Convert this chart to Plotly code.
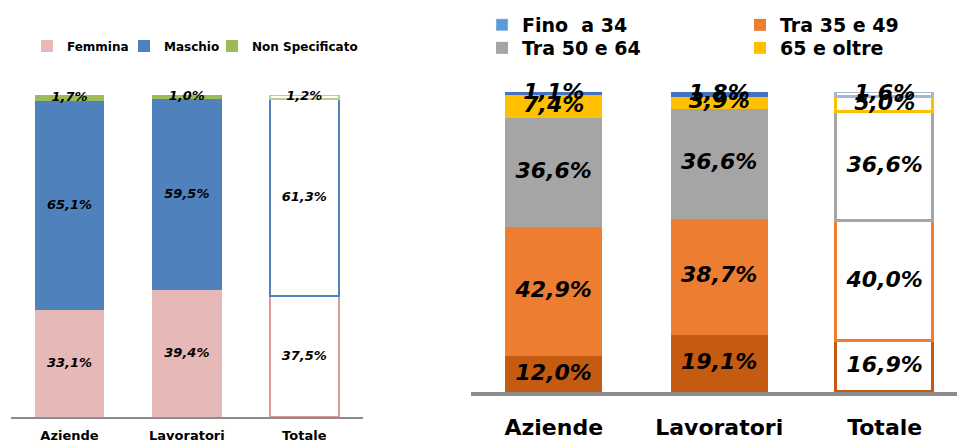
import plotly.graph_objects as go

# ---------------- data ----------------
categories = ["Aziende", "Lavoratori", "Totale"]

# left chart: gender
femmina = [33.1, 39.4, 37.5]
maschio = [65.1, 59.5, 61.3]
non_specificato = [1.7, 1.0, 1.2]

# right chart: age classes (bottom -> top)
eta_base = [12.0, 19.1, 16.9]
tra_35_49 = [42.9, 38.7, 40.0]
tra_50_64 = [36.6, 36.6, 36.6]
oltre_65 = [7.4, 3.9, 5.0]
fino_34 = [1.1, 1.8, 1.6]

FONT = "DejaVu Sans"


def fmt(v):
    return f"{v:.1f}".replace(".", ",") + "%"


fig = go.Figure()


def add_stack(series, xa, ya, width, line_w, text_size):
    base = [0.0] * len(categories)
    for s in series:
        vals, name, fill, line, legend = s
        fig.add_trace(go.Bar(
            x=categories, y=vals, name=name, xaxis=xa, yaxis=ya,
            width=width,
            marker=dict(color=[fill, fill, "white"],
                        line=dict(color=[fill, fill, line], width=[0, 0, line_w])),
            showlegend=legend is not None, legend=legend or "legend", hoverinfo="skip",
        ))
        mids = [b + v / 2 for b, v in zip(base, vals)]
        fig.add_trace(go.Scatter(
            x=categories, y=mids, text=[fmt(v) for v in vals], mode="text",
            xaxis=xa, yaxis=ya, showlegend=False, hoverinfo="skip",
            cliponaxis=False,
            textfont=dict(family=FONT, size=text_size, color="black",
                          weight="bold", style="italic"),
        ))
        base = [b + v for b, v in zip(base, vals)]


add_stack([
    (femmina, "Femmina", "#E6B9B8", "#DE9A9A", "legend"),
    (maschio, "Maschio", "#4F81BD", "#4F81BD", "legend6"),
    (non_specificato, "Non Specificato", "#9BBB59", "#B7D08A", "legend7"),
], "x", "y", 0.59, 2, 13)

# legend-only entry for "Fino  a 34"
fig.add_trace(go.Bar(x=[None], y=[None], name="Fino  a 34", xaxis="x2", yaxis="y2",
                     marker=dict(color="#5B9BD5"), legend="legend2", showlegend=True))

add_stack([
    (eta_base, "Fino a 34 (base)", "#C55A11", "#C55A11", None),
    (tra_35_49, "Tra 35 e 49", "#ED7D31", "#ED7D31", "legend3"),
    (tra_50_64, "Tra 50 e 64", "#A5A5A5", "#A5A5A5", "legend4"),
    (oltre_65, "65 e oltre", "#FFC000", "#FFC000", "legend5"),
    (fino_34, "Fino  a 34 ", "#4472C4", "#A9B7D3", None),
], "x2", "y2", 0.586, 3.5, 22)

W, H = 957, 441


def leg(x_px, y_px, size):
    return dict(orientation="v", x=x_px / W, xanchor="left", y=1 - y_px / H, yanchor="middle",
                font=dict(family=FONT, size=size, weight="bold", color="black"),
                bgcolor="rgba(0,0,0,0)")


fig.update_layout(
    width=W, height=H, margin=dict(l=0, r=0, t=0, b=0, autoexpand=False),
    paper_bgcolor="white", plot_bgcolor="white",
    barmode="stack", bargap=0,
    font=dict(family=FONT, color="black"),
    xaxis=dict(domain=[10.75 / W, 363 / W], range=[-0.5, 2.5], anchor="y",
               type="category", categoryarray=categories, automargin=False,
               showline=True, linecolor="#8C8C8C", linewidth=2, ticks="",
               ticklabelstandoff=5,
               showgrid=False, zeroline=False,
               tickfont=dict(family=FONT, size=13, weight="bold", color="black")),
    yaxis=dict(domain=[24 / H, 346 / H], range=[0, 100], visible=False),
    xaxis2=dict(domain=[471 / W, 1], range=[-0.5, 2.437], anchor="y2",
                type="category", categoryarray=categories, automargin=False,
                showline=True, linecolor="#8C8C8C", linewidth=4, ticks="",
                ticklabelstandoff=13,
                showgrid=False, zeroline=False,
                tickfont=dict(family=FONT, size=22, weight="bold", color="black")),
    yaxis2=dict(domain=[49 / H, 349 / H], range=[0, 100], visible=False),
    legend=leg(27, 46, 12),
    legend6=leg(124, 46, 12),
    legend7=leg(212, 46, 12),
    legend2=leg(482, 25, 19),
    legend3=leg(740, 25, 19),
    legend4=leg(482, 48, 19),
    legend5=leg(740, 48, 19),
)

fig.write_html("out.html")
